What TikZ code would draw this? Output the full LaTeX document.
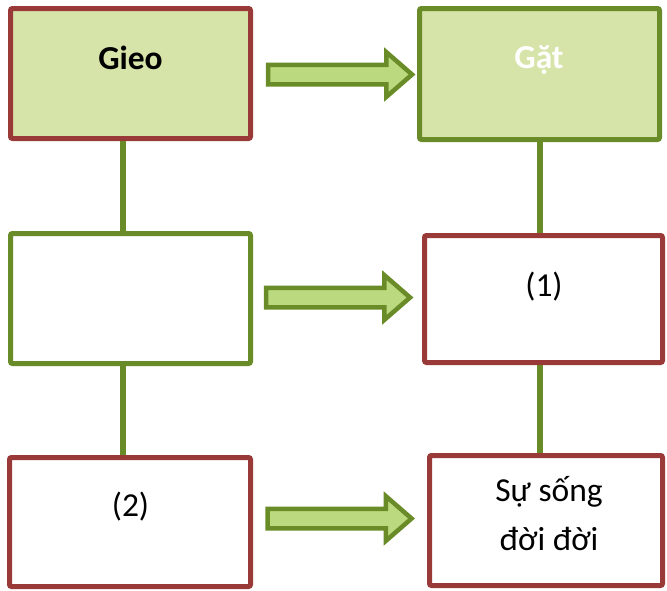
\documentclass[tikz,border=0pt]{standalone}
\usepackage{fontspec}
\setmainfont{Carlito}
\usetikzlibrary{shapes.arrows}
\definecolor{bred}{HTML}{9A3A38}
\definecolor{bgreen}{HTML}{6A8C28}
\definecolor{lfill}{HTML}{D6E4AA}
\definecolor{afill}{HTML}{BBD97E}
\begin{document}
\begin{tikzpicture}[x=1pt,y=-1pt,
  box/.style={draw, line width=5pt, rounded corners=2pt, inner sep=0pt},
  redbox/.style={box, draw=bred},
  greenbox/.style={box, draw=bgreen},
  txt/.style={anchor=base, inner sep=0pt, font=\fontsize{33.5}{40}\selectfont},
  link/.style={draw=bgreen, line width=5.5pt},
  blockarrow/.style={single arrow, draw=bgreen, fill=afill, line width=4.5pt,
    minimum height=144pt, inner sep=0pt, inner ysep=7.5pt, anchor=tip,
    single arrow tip angle=82, single arrow head extend=12.5pt}]
\useasboundingbox (0,0) rectangle (667,590);
\coordinate (c1) at (123,0);
\coordinate (c2) at (540,0);
% boxes
\node[redbox, fill=lfill, minimum width=240pt, minimum height=130pt] (gieo) at (130.5,73.5) {};
\node[greenbox, fill=lfill, minimum width=240pt, minimum height=131pt] (gat) at (539.5,74) {};
\node[greenbox, fill=white, minimum width=240pt, minimum height=130pt] (mid) at (130.5,298.5) {};
\node[redbox, fill=white, minimum width=238pt, minimum height=127pt] (one) at (543.5,299) {};
\node[redbox, fill=white, minimum width=241pt, minimum height=129pt] (two) at (130,522) {};
\node[redbox, fill=white, minimum width=233pt, minimum height=130pt] (life) at (546,520.5) {};
% vertical links
\draw[link] (c1 |- gieo.south) -- (c1 |- mid.north);
\draw[link] (c1 |- mid.south) -- (c1 |- two.north);
\draw[link] (c2 |- gat.south) -- (c2 |- one.north);
\draw[link] (c2 |- one.south) -- (c2 |- life.north);
% block arrows
\node[blockarrow] (a1) at (415.5,74.5) {};
\node[blockarrow] (a2) at (413.5,297.5) {};
\node[blockarrow] (a3) at (415,518.5) {};
% texts
\node[txt, font=\fontsize{33.5}{40}\selectfont\bfseries] (tgieo) at (130.5,69) {Gieo};
\node[txt, font=\fontsize{33.5}{40}\selectfont\bfseries, text=white] (tgat) at (539,68.5) {Gặt};
\node[txt] (tone) at (544,296) {(1)};
\node[txt] (ttwo) at (130.5,516) {(2)};
\node[txt] (tl1) at (549,501.5) {Sự sống};
\node[txt] (tl2) at (549,550) {đời đời};
\end{tikzpicture}
\end{document}
